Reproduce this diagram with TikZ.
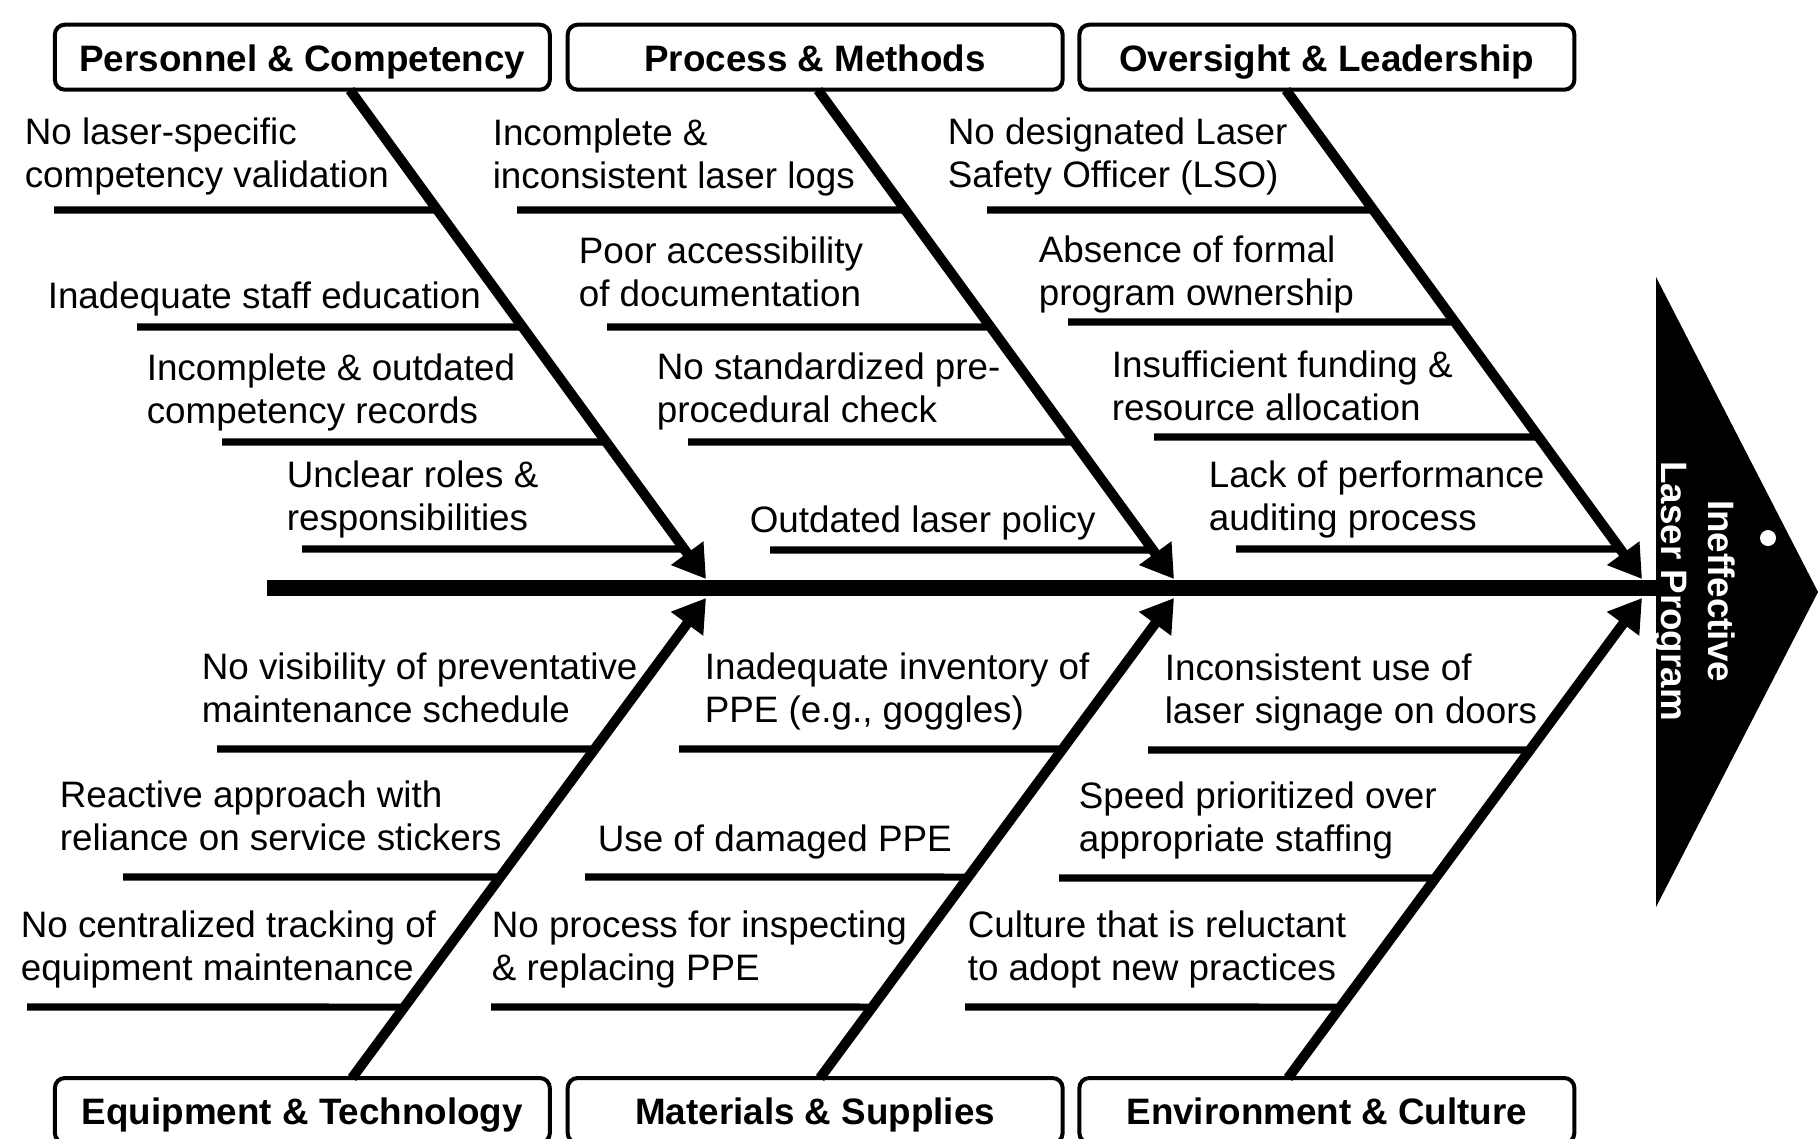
\documentclass[tikz,border=0pt]{standalone}
\usepackage{fontspec}
\setmainfont{Liberation Sans}
\usetikzlibrary{arrows.meta}
\begin{document}
\begin{tikzpicture}[x=0.25pt, y=-0.25pt,
  catbox/.style={draw, line width=1pt, rounded corners=2.5pt,
    minimum width=123.75pt, minimum height=16.25pt, inner sep=0pt,
    text height=8pt, text depth=0.8pt,
    font=\fontsize{9.2}{11}\selectfont\bfseries},
  cause/.style={anchor=base west, align=left, inner sep=0pt,
    font=\fontsize{9.2}{10.75}\selectfont},
  bone/.style={line width=2.5pt, -{Triangle[length=8pt, width=9.5pt]}},
  subline/.style={line width=1.8pt}]
\clip (0,0) rectangle (1818,1138);
\useasboundingbox (0,0) rectangle (1818,1138);

% category boxes
\node[catbox] (pc) at (302.35,57.2) {Personnel \& Competency};
\node[catbox] (pm) at (815.15,57.2) {Process \& Methods};
\node[catbox] (ol) at (1326.85,57.2) {Oversight \& Leadership};
\node[catbox] (et) at (302.35,1110.5) {Equipment \& Technology};
\node[catbox] (ms) at (815.15,1110.5) {Materials \& Supplies};
\node[catbox] (ec) at (1326.85,1110.5) {Environment \& Culture};

% head and spine
\fill (1656,277) -- (1818,592) -- (1656,907) -- cycle;
\node[rotate=-90, align=center, inner sep=0pt, text=white,
  font=\fontsize{9.2}{11.75}\selectfont\bfseries] (effect) at (1694,591)
  {Ineffective\\Laser Program};
\fill[white] (1768,538) circle (2pt);
\coordinate (tail) at (267,588);
\coordinate (head) at (1656,588);
\draw[line width=4pt] (tail) -- (head);

% bones
\coordinate (b1s) at (350,90);   \coordinate (b1e) at (706,579);
\coordinate (b2s) at (818,90);   \coordinate (b2e) at (1174,579);
\coordinate (b3s) at (1286,90);  \coordinate (b3e) at (1642,579);
\coordinate (b4s) at (352,1078); \coordinate (b4e) at (706,598);
\coordinate (b5s) at (820,1078); \coordinate (b5e) at (1174,598);
\coordinate (b6s) at (1288,1078);\coordinate (b6e) at (1642,598);
\draw[bone] (b1s) -- (b1e);
\draw[bone] (b2s) -- (b2e);
\draw[bone] (b3s) -- (b3e);
\draw[bone] (b4s) -- (b4e);
\draw[bone] (b5s) -- (b5e);
\draw[bone] (b6s) -- (b6e);

% personnel & competency
\node[cause] (pc1) at (24,187) {No laser-specific\\competency validation};
\node[cause] (pc2) at (47,308) {Inadequate staff education};
\node[cause] (pc3) at (146,423) {Incomplete \& outdated\\competency records};
\node[cause] (pc4) at (286,530) {Unclear roles \&\\responsibilities};
\coordinate (pc1u) at (54,210);
\coordinate (pc2u) at (137,327);
\coordinate (pc3u) at (222,442);
\coordinate (pc4u) at (302,549);
\draw[subline] (pc1u) -- (intersection of pc1u--pc1u -| b1e and b1s--b1e);
\draw[subline] (pc2u) -- (intersection of pc2u--pc2u -| b1e and b1s--b1e);
\draw[subline] (pc3u) -- (intersection of pc3u--pc3u -| b1e and b1s--b1e);
\draw[subline] (pc4u) -- (intersection of pc4u--pc4u -| b1e and b1s--b1e);

% process & methods
\node[cause] (pm1) at (492,188) {Incomplete \&\\inconsistent laser logs};
\node[cause] (pm2) at (578,306) {Poor accessibility\\of documentation};
\node[cause] (pm3) at (656,422) {No standardized pre-\\procedural check};
\node[cause] (pm4) at (749,532) {Outdated laser policy};
\coordinate (pm1u) at (517,210);
\coordinate (pm2u) at (607,327);
\coordinate (pm3u) at (688,442);
\coordinate (pm4u) at (770,550);
\draw[subline] (pm1u) -- (intersection of pm1u--pm1u -| b2e and b2s--b2e);
\draw[subline] (pm2u) -- (intersection of pm2u--pm2u -| b2e and b2s--b2e);
\draw[subline] (pm3u) -- (intersection of pm3u--pm3u -| b2e and b2s--b2e);
\draw[subline] (pm4u) -- (intersection of pm4u--pm4u -| b2e and b2s--b2e);

% oversight & leadership
\node[cause] (ol1) at (947,187) {No designated Laser\\Safety Officer (LSO)};
\node[cause] (ol2) at (1038,305) {Absence of formal\\program ownership};
\node[cause] (ol3) at (1111,420) {Insufficient funding \&\\resource allocation};
\node[cause] (ol4) at (1208,530) {Lack of performance\\auditing process};
\coordinate (ol1u) at (987,210);
\coordinate (ol2u) at (1068,322);
\coordinate (ol3u) at (1154,437);
\coordinate (ol4u) at (1236,549);
\draw[subline] (ol1u) -- (intersection of ol1u--ol1u -| b3e and b3s--b3e);
\draw[subline] (ol2u) -- (intersection of ol2u--ol2u -| b3e and b3s--b3e);
\draw[subline] (ol3u) -- (intersection of ol3u--ol3u -| b3e and b3s--b3e);
\draw[subline] (ol4u) -- (intersection of ol4u--ol4u -| b3e and b3s--b3e);

% equipment & technology
\node[cause] (et1) at (201,722) {No visibility of preventative\\maintenance schedule};
\node[cause] (et2) at (59,850) {Reactive approach with\\reliance on service stickers};
\node[cause] (et3) at (20,980) {No centralized tracking of\\equipment maintenance};
\coordinate (et1u) at (217,749);
\coordinate (et2u) at (123,877);
\coordinate (et3u) at (27,1007);
\draw[subline] (et1u) -- (intersection of et1u--et1u -| b4e and b4s--b4e);
\draw[subline] (et2u) -- (intersection of et2u--et2u -| b4e and b4s--b4e);
\draw[subline] (et3u) -- (intersection of et3u--et3u -| b4e and b4s--b4e);

% materials & supplies
\node[cause] (ms1) at (704,722) {Inadequate inventory of\\PPE (e.g., goggles)};
\node[cause] (ms2) at (597,851) {Use of damaged PPE};
\node[cause] (ms3) at (491,980) {No process for inspecting\\\& replacing PPE};
\coordinate (ms1u) at (679,749);
\coordinate (ms2u) at (585,877);
\coordinate (ms3u) at (491,1007);
\draw[subline] (ms1u) -- (intersection of ms1u--ms1u -| b5e and b5s--b5e);
\draw[subline] (ms2u) -- (intersection of ms2u--ms2u -| b5e and b5s--b5e);
\draw[subline] (ms3u) -- (intersection of ms3u--ms3u -| b5e and b5s--b5e);

% environment & culture
\node[cause] (ec1) at (1164,723) {Inconsistent use of\\laser signage on doors};
\node[cause] (ec2) at (1078,851) {Speed prioritized over\\appropriate staffing};
\node[cause] (ec3) at (967,980) {Culture that is reluctant\\to adopt new practices};
\coordinate (ec1u) at (1148,750);
\coordinate (ec2u) at (1059,878);
\coordinate (ec3u) at (965,1007);
\draw[subline] (ec1u) -- (intersection of ec1u--ec1u -| b6e and b6s--b6e);
\draw[subline] (ec2u) -- (intersection of ec2u--ec2u -| b6e and b6s--b6e);
\draw[subline] (ec3u) -- (intersection of ec3u--ec3u -| b6e and b6s--b6e);
\end{tikzpicture}
\end{document}
